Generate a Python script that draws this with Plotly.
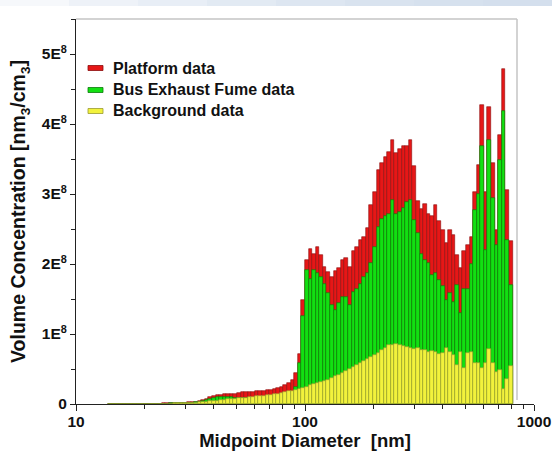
import numpy as np
import plotly.graph_objects as go

# Midpoint diameters (nm), 64 channels/decade
diameters = [14.1, 14.6, 15.1, 15.7, 16.3, 16.8, 17.5, 18.1, 18.8, 19.5, 20.2, 20.9,
             21.7, 22.5, 23.3, 24.1, 25.0, 25.9, 26.9, 27.9, 28.9, 30.0,
             31.1, 32.2, 33.4, 34.6, 35.9, 37.2, 38.5, 40.0, 41.4, 42.9,
             44.5, 46.1, 47.8, 49.6, 51.4, 53.3, 55.2, 57.3, 59.4, 61.5,
             63.8, 66.1, 68.5, 71.0, 73.7, 76.4, 79.1, 82.0, 85.1, 88.2,
             91.4, 94.7, 98.2, 101.8, 105.5, 109.4, 113.4, 117.6, 121.9, 126.3,
             131.0, 135.8, 140.7, 145.9, 151.2, 156.8, 162.5, 168.5, 174.7, 181.1,
             187.7, 194.6, 201.7, 209.1, 216.7, 224.7, 232.9, 241.4, 250.3, 259.5,
             269.0, 278.8, 289.0, 299.6, 310.6, 322.0, 333.8, 346.0, 358.7, 371.8,
             385.4, 399.5, 414.2, 429.4, 445.1, 461.4, 478.3, 495.8, 514.0, 532.8,
             552.3, 572.5, 593.5, 615.3, 637.8, 661.2, 685.4, 710.5, 736.5, 763.5, 791.5]

# Volume concentration, in units of 1E8 nm3/cm3
platform = [0.000, 0.000, 0.001, 0.001, 0.001, 0.002, 0.002, 0.002, 0.003, 0.003, 0.004, 0.004,
            0.005, 0.006, 0.007, 0.008, 0.010, 0.012, 0.014, 0.016, 0.018, 0.020,
            0.022, 0.025, 0.030, 0.040, 0.055, 0.075, 0.095, 0.110, 0.125, 0.135,
            0.140, 0.145, 0.150, 0.150, 0.160, 0.165, 0.170, 0.175, 0.175, 0.180,
            0.185, 0.190, 0.200, 0.205, 0.215, 0.230, 0.250, 0.270, 0.300, 0.340,
            0.450, 0.720, 1.480, 2.060, 2.220, 2.150, 2.250, 2.130, 1.960, 1.880,
            1.820, 1.900, 1.940, 2.060, 2.080, 1.960, 2.180, 2.250, 2.340, 2.390,
            2.510, 2.840, 3.030, 3.340, 3.440, 3.530, 3.600, 3.770, 3.580, 3.650,
            3.690, 3.690, 3.770, 3.400, 2.900, 2.780, 2.860, 2.720, 2.680, 2.840,
            2.620, 2.480, 2.300, 2.480, 2.420, 2.130, 1.940, 2.180, 2.270, 2.390,
            3.030, 3.410, 4.270, 3.030, 4.250, 3.450, 2.490, 3.840, 4.790, 3.060, 2.330]

bus_exhaust = [0.000, 0.000, 0.000, 0.001, 0.001, 0.001, 0.001, 0.002, 0.002, 0.002, 0.003, 0.003,
               0.003, 0.004, 0.005, 0.006, 0.007, 0.008, 0.010, 0.011, 0.012, 0.014,
               0.016, 0.018, 0.022, 0.030, 0.045, 0.060, 0.075, 0.090, 0.100, 0.100,
               0.100, 0.100, 0.095, 0.090, 0.090, 0.080, 0.080, 0.080, 0.075, 0.080,
               0.090, 0.095, 0.100, 0.110, 0.120, 0.125, 0.135, 0.145, 0.155, 0.170,
               0.250, 0.580, 1.260, 1.910, 1.780, 1.920, 1.870, 1.820, 1.720, 1.580,
               1.410, 1.340, 1.440, 1.530, 1.530, 1.410, 1.600, 1.650, 1.720, 1.820,
               1.870, 2.010, 2.250, 2.530, 2.650, 2.680, 2.720, 2.910, 2.720, 2.750,
               2.800, 2.890, 2.910, 2.630, 2.450, 2.150, 2.060, 2.010, 1.850, 1.870,
               1.770, 1.680, 1.490, 1.580, 1.460, 1.700, 1.300, 1.650, 1.650, 2.000,
               2.770, 3.000, 3.680, 2.200, 3.770, 2.950, 2.270, 3.490, 4.180, 2.340, 1.700]

background = [0.000, 0.000, 0.000, 0.000, 0.001, 0.001, 0.001, 0.001, 0.002, 0.002, 0.002, 0.003,
              0.003, 0.004, 0.004, 0.005, 0.006, 0.007, 0.008, 0.009, 0.010, 0.011,
              0.012, 0.015, 0.020, 0.025, 0.030, 0.035, 0.040, 0.045, 0.050, 0.055,
              0.060, 0.065, 0.070, 0.075, 0.080, 0.085, 0.090, 0.095, 0.100, 0.110,
              0.115, 0.120, 0.130, 0.135, 0.145, 0.150, 0.160, 0.170, 0.180, 0.190,
              0.205, 0.220, 0.235, 0.250, 0.265, 0.280, 0.295, 0.310, 0.330, 0.350,
              0.370, 0.395, 0.420, 0.445, 0.470, 0.495, 0.525, 0.555, 0.580, 0.610,
              0.640, 0.670, 0.700, 0.730, 0.770, 0.800, 0.840, 0.850, 0.860, 0.840,
              0.830, 0.820, 0.800, 0.790, 0.800, 0.770, 0.770, 0.750, 0.760, 0.740,
              0.720, 0.730, 0.800, 0.740, 0.700, 0.560, 0.750, 0.510, 0.730, 0.750,
              0.580, 0.580, 0.520, 0.580, 0.790, 0.580, 0.460, 0.480, 0.220, 0.360, 0.550]

UNIT = 1e8
series_names = ["Platform data", "Bus Exhaust Fume data", "Background data"]
x_tick_vals = [10, 100, 1000]
x_tick_text = ["10", "100", "1000"]
y_tick_vals = [0, 1e8, 2e8, 3e8, 4e8, 5e8]
y_tick_text = ["0", "1E<sup>8</sup>", "2E<sup>8</sup>", "3E<sup>8</sup>", "4E<sup>8</sup>", "5E<sup>8</sup>"]

# bin edges (geometric boundaries between channel midpoints)
d = np.array(diameters)
inner = np.sqrt(d[:-1] * d[1:])
edges = np.concatenate([[d[0] ** 2 / inner[0]], inner, [d[-1] ** 2 / inner[-1]]])
offsets = edges[:-1] - d
widths = edges[1:] - edges[:-1]

fills = ["#e61717", "#12e012", "#f2f23c"]
outlines = ["#8a0c0c", "#0a7a0a", "#9a9a30"]
datasets = [platform, bus_exhaust, background]

fig = go.Figure()
for name, vals, fc, lc in zip(series_names, datasets, fills, outlines):
    fig.add_trace(go.Bar(
        x=d, y=np.array(vals) * UNIT, offset=offsets, width=widths,
        name=name, marker=dict(color=fc, line=dict(color=lc, width=0.6)),
        showlegend=False,
    ))

FONT = "Liberation Sans, Arial, sans-serif"
L, R, T, B = 76, 18, 19, 47
W, H = 552, 451
pw, ph = W - L - R, H - T - B

def px(xp):
    return (xp - L) / pw

def py(yp):
    return (H - B - yp) / ph

shapes = []
# light header band (slide background)
band_cols = ["#f6f8fb", "#eef2f8", "#e8eef6", "#e2eaf3", "#dde6f1", "#d9e3ef", "#d6e1ee", "#d4dfed"]
nseg = len(band_cols)
for i, c in enumerate(band_cols):
    shapes.append(dict(type="rect", xref="paper", yref="paper",
                       x0=px(W * i / nseg), x1=px(W * (i + 1) / nseg) + 0.002,
                       y0=py(6), y1=py(0), fillcolor=c, line=dict(width=0), layer="below"))
# grey frame top/right
shapes.append(dict(type="line", xref="paper", yref="paper", x0=0, x1=px(517), y0=1, y1=1,
                   line=dict(color="#c4c4c4", width=1.5)))
shapes.append(dict(type="line", xref="paper", yref="paper", x0=px(517), x1=px(517), y0=py(400), y1=1,
                   line=dict(color="#c4c4c4", width=1.5)))

# legend (manual)
annotations = []
leg_y = [68, 90, 111]
for name, fc, lc, yy in zip(series_names, fills, outlines, leg_y):
    shapes.append(dict(type="rect", xref="paper", yref="paper",
                       x0=px(88), x1=px(103), y0=py(yy + 2.5), y1=py(yy - 2.5),
                       fillcolor=fc, line=dict(color=lc, width=0.8)))
    annotations.append(dict(xref="paper", yref="paper", x=px(111), y=py(yy), text=name,
                            showarrow=False, xanchor="left", yanchor="middle",
                            font=dict(family=FONT, size=16, color="#111", weight="bold")))

minor_x = [20, 30, 40, 50, 60, 70, 80, 90, 200, 300, 400, 500, 600, 700, 800, 900]
minor_y = [0.5e8, 1.5e8, 2.5e8, 3.5e8, 4.5e8, 5.5e8]

fig.update_layout(
    width=W, height=H, autosize=False,
    margin=dict(l=L, r=R, t=T, b=B),
    paper_bgcolor="white", plot_bgcolor="white",
    barmode="overlay", bargap=0,
    shapes=shapes, annotations=annotations,
    xaxis=dict(type="log", range=[1, 3], showgrid=False, zeroline=False, automargin=False,
               showline=True, linecolor="#222", linewidth=1.2,
               ticks="outside", ticklen=6, tickwidth=1.2, tickcolor="#222",
               tickvals=x_tick_vals, ticktext=x_tick_text, ticklabelstandoff=-3,
               tickfont=dict(family=FONT, size=15.5, color="#111", weight="bold"),
               minor=dict(ticks="outside", ticklen=4, tickwidth=1, tickcolor="#222", tickvals=minor_x),
               title=dict(text="Midpoint Diameter  [nm]", standoff=2,
                          font=dict(family=FONT, size=18.5, color="#111", weight="bold"))),
    yaxis=dict(range=[0, 5.5e8], showgrid=False, zeroline=False, automargin=False,
               showline=True, linecolor="#222", linewidth=1.2,
               ticks="outside", ticklen=5, tickwidth=1.2, tickcolor="#222",
               tickvals=y_tick_vals, ticktext=y_tick_text,
               tickfont=dict(family=FONT, size=15.5, color="#111", weight="bold"),
               minor=dict(ticks="outside", ticklen=4, tickwidth=1, tickcolor="#222", tickvals=minor_y),
               title=dict(text="Volume Concentration [nm<sub>3</sub>/cm<sub>3</sub>]", standoff=10,
                          font=dict(family=FONT, size=19.5, color="#111", weight="bold"))),
)

fig.write_html("out.html")
